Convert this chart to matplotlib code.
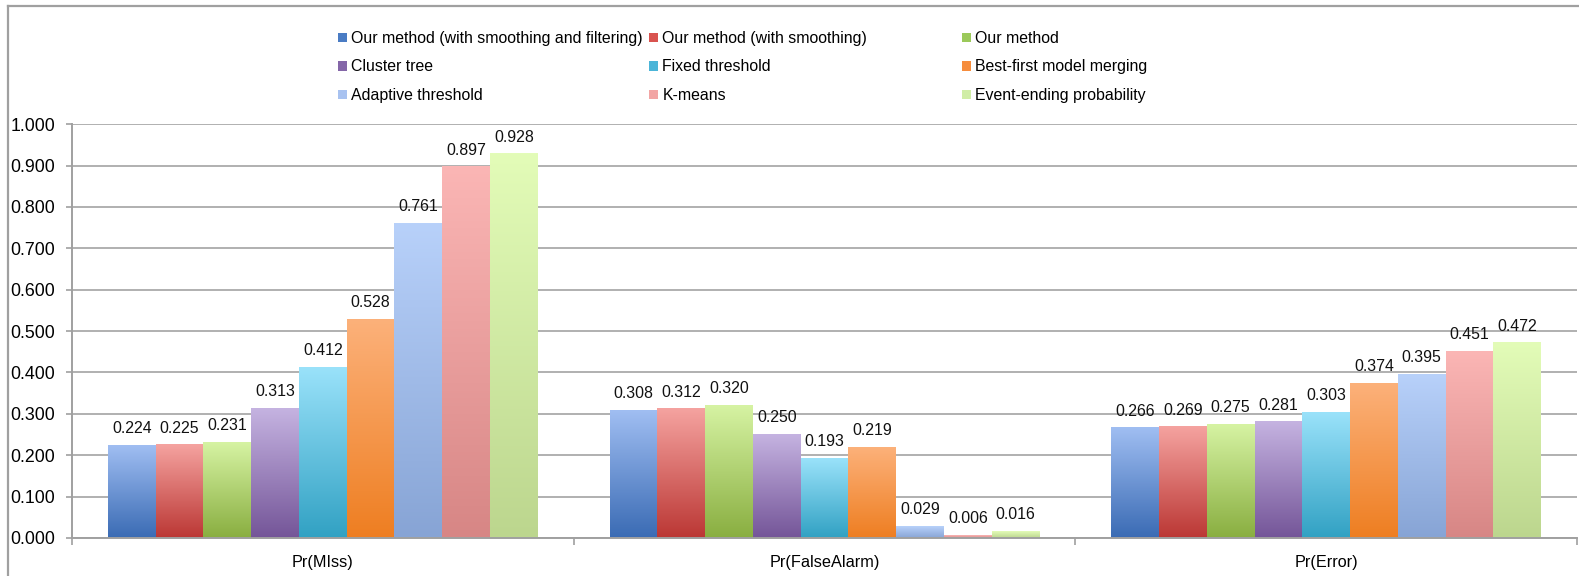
import matplotlib
matplotlib.use("Agg")
import matplotlib.pyplot as plt
import numpy as np
from matplotlib.colors import LinearSegmentedColormap
from matplotlib.patches import Rectangle
from matplotlib.lines import Line2D

plt.rcParams['font.family'] = ['Liberation Sans', 'DejaVu Sans']

categories = ["Pr(MIss)", "Pr(FalseAlarm)", "Pr(Error)"]
series_names = [
    "Our method (with smoothing and filtering)",
    "Our method (with smoothing)",
    "Our method",
    "Cluster tree",
    "Fixed threshold",
    "Best-first model merging",
    "Adaptive threshold",
    "K-means",
    "Event-ending probability",
]
smooth_filter = [0.224, 0.308, 0.266]
smooth = [0.225, 0.312, 0.269]
our_method = [0.231, 0.320, 0.275]
cluster_tree = [0.313, 0.250, 0.281]
fixed_threshold = [0.412, 0.193, 0.303]
best_first = [0.528, 0.219, 0.374]
adaptive_threshold = [0.761, 0.029, 0.395]
kmeans = [0.897, 0.006, 0.451]
event_ending = [0.928, 0.016, 0.472]
series_values = [smooth_filter, smooth, our_method, cluster_tree, fixed_threshold,
                 best_first, adaptive_threshold, kmeans, event_ending]

top_colors = ["#a0bef2", "#f5a3a0", "#d6f3a3", "#c5b3e1", "#9ae2fa", "#fcb17a",
              "#b8d1fa", "#fbb6b5", "#e3fcb8"]
bottom_colors = ["#3a6bb4", "#bb3734", "#89ae40", "#745598", "#31a1c3", "#ee7e21",
                 "#87a4d5", "#d78685", "#bcd68e"]
legend_colors = ["#4a7cc4", "#d9534f", "#9bc95a", "#8466a8", "#4bb5d8", "#f68d3d",
                 "#a8c2f0", "#f2a5a4", "#d0eda6"]

W, H = 1579, 576
fig = plt.figure(figsize=(W / 100, H / 100), dpi=100)

# outer frame (top and left)
fig.add_artist(Line2D([8 / W, 1.0], [1 - 6 / H, 1 - 6 / H], transform=fig.transFigure,
                      color="#a0a0a0", lw=1.6))
fig.add_artist(Line2D([8 / W, 8 / W], [0, 1 - 6 / H], transform=fig.transFigure,
                      color="#a0a0a0", lw=1.6))

ax_left, ax_right, ax_top, ax_bot = 72, 1577, 124, 538
ax = fig.add_axes([ax_left / W, 1 - ax_bot / H, (ax_right - ax_left) / W, (ax_bot - ax_top) / H])

x = np.arange(len(categories))
n = len(series_names)
width = 0.0952
grad = np.linspace(0, 1, 256).reshape(-1, 1)

for i, (vals, tc, bc) in enumerate(zip(series_values, top_colors, bottom_colors)):
    pos = x + (i - (n - 1) / 2) * width
    bars = ax.bar(pos, vals, width=width, color="none", edgecolor="none", zorder=2)
    cmap = LinearSegmentedColormap.from_list(f"g{i}", [bc, tc])
    for rect, v in zip(bars, vals):
        x0 = rect.get_x()
        ax.imshow(grad, extent=[x0, x0 + rect.get_width(), 0, v], origin="lower",
                  aspect="auto", cmap=cmap, zorder=2, interpolation="bilinear")
        ax.annotate(f"{v:.3f}", xy=(x0 + rect.get_width() / 2, v), xytext=(0, 12),
                    textcoords="offset points", ha="center", va="center",
                    fontsize=11.4, color="#111111", zorder=3)

ax.set_xlim(-0.5, 2.5)
ax.set_ylim(0, 1.0005)
ax.set_yticks(np.arange(0, 1.01, 0.1))
ax.set_yticklabels([f"{t:.3f}" for t in np.arange(0, 1.01, 0.1)])
ax.yaxis.grid(True, color="#b0b0b0", lw=1.4, zorder=0)
ax.set_axisbelow(True)

ax.set_xticks([-0.5, 0.5, 1.5, 2.5])
ax.set_xticklabels([])
ax.set_xticks(x, minor=True)
ax.set_xticklabels(categories, minor=True)
ax.tick_params(axis="x", which="major", length=5, color="#a0a0a0", width=1.2, direction="out")
ax.tick_params(axis="x", which="minor", length=0, pad=12, labelsize=11.7)
ax.tick_params(axis="y", length=4, color="#a0a0a0", width=1.2, pad=8, labelsize=12.8)

for s in ["top", "right"]:
    ax.spines[s].set_visible(False)
for s in ["left", "bottom"]:
    ax.spines[s].set_color("#a0a0a0")
    ax.spines[s].set_linewidth(1.4)

# legend: three equal-width columns
col_x = [342, 653, 966]
row_y = [37, 66, 96]
for c in range(3):
    handles = []
    labels = []
    for r in range(3):
        idx = r * 3 + c
        handles.append(Rectangle((0, 0), 1, 1, facecolor=legend_colors[idx], edgecolor="none"))
        labels.append(series_names[idx])
    fig.legend(handles, labels, loc="upper left",
               bbox_to_anchor=((col_x[c] - 4) / W, 1 - (row_y[0] - 6) / H),
               frameon=False, fontsize=11.4, handlelength=0.55, handleheight=0.55,
               handletextpad=0.3, labelspacing=0.85, borderpad=0, borderaxespad=0)

fig.savefig("out.png", dpi=100)
